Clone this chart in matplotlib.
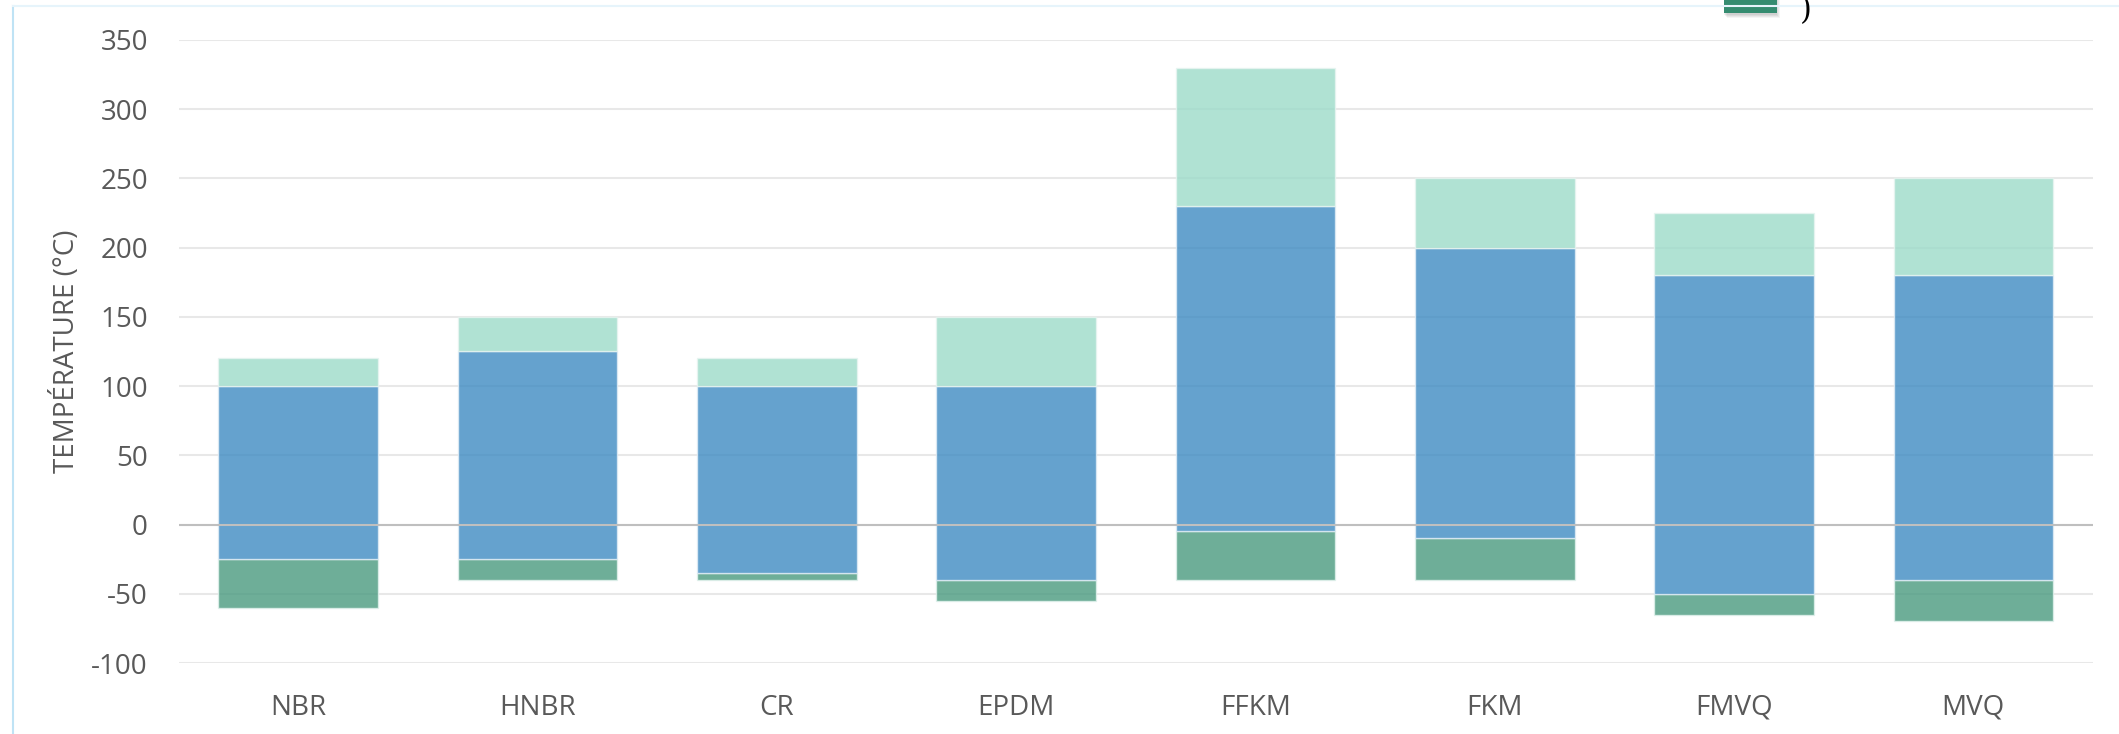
import matplotlib
matplotlib.use("Agg")
import matplotlib.pyplot as plt
from matplotlib.patches import Rectangle
from matplotlib.lines import Line2D

plt.rcParams['font.family'] = ['Open Sans', 'DejaVu Sans']

categories = ["NBR", "HNBR", "CR", "EPDM", "FFKM", "FKM", "FMVQ", "MVQ"]
low_extended = [-60, -40, -40, -55, -40, -40, -65, -70]
low_continuous = [-25, -25, -35, -40, -5, -10, -50, -40]
high_continuous = [100, 125, 100, 100, 230, 200, 180, 180]
high_peak = [120, 150, 120, 150, 330, 250, 225, 250]
yticks = [-100, -50, 0, 50, 100, 150, 200, 250, 300, 350]

W, H = 2119, 734
fig = plt.figure(figsize=(W / 100, H / 100), dpi=100)
ax = fig.add_axes([178.5 / W, 1 - 663 / H, (2093 - 178.5) / W, (663 - 40) / H])

x = list(range(len(categories)))
c_blue = '#3E8BC2'
c_light = '#9CDBC9'
c_dark = '#4A9A7F'
alpha = 0.8
bw = 0.667

dark_h = [lc - le for le, lc in zip(low_extended, low_continuous)]
blue_h = [hc - lc for lc, hc in zip(low_continuous, high_continuous)]
light_h = [hp - hc for hc, hp in zip(high_continuous, high_peak)]

ax.bar(x, dark_h, bottom=low_extended, width=bw, color=c_dark, alpha=alpha,
       edgecolor='#E3F2EE', linewidth=1, zorder=2)
ax.bar(x, blue_h, bottom=low_continuous, width=bw, color=c_blue, alpha=alpha,
       edgecolor='#E3EEF6', linewidth=1, zorder=2)
ax.bar(x, light_h, bottom=high_continuous, width=bw, color=c_light, alpha=alpha,
       edgecolor='#E8F5F1', linewidth=1, zorder=2)

ax.set_xlim(-0.5, len(categories) - 0.5)
ax.set_ylim(-100, 350)
ax.set_yticks(yticks)
ax.set_yticklabels([str(v) for v in yticks])
ax.set_xticks(x)
ax.set_xticklabels(categories)
ax.tick_params(axis='both', length=0, labelsize=20, labelcolor='#595959')
ax.tick_params(axis='y', pad=22)
ax.tick_params(axis='x', pad=22)
ax.grid(axis='y', color='#E8E8E8', linewidth=1.5, zorder=0)
ax.set_axisbelow(True)
ax.axhline(0, color='#BFBFBF', linewidth=1.5, zorder=3)
for s in ax.spines.values():
    s.set_visible(False)

ax.set_ylabel("TEMPÉRATURE (°C)", fontsize=20, color='#595959')
ax.yaxis.label.set(rotation_mode='default', va='center', ha='center')
ax.yaxis.set_label_coords((66 - 178.5) / (2093 - 178.5), 0.5)

# chart area border (partially visible)
fig.add_artist(Line2D([13 / W, 13 / W], [0, 1 - 6 / H], color='#BFE3F5', linewidth=1.5))
fig.add_artist(Line2D([13 / W, 1], [1 - 6 / H, 1 - 6 / H], color='#E6F4FB', linewidth=1.5))

# clipped legend fragment (soft shadow + swatch)
for i, a in enumerate([0.05, 0.05, 0.05, 0.04]):
    fig.add_artist(Rectangle(((1724 + i) / W, 1 - (15 + i) / H), 53 / W, 20 / H,
                             facecolor='#000000', alpha=a, edgecolor='none'))
fig.add_artist(Rectangle((1724 / W, 1 - 13 / H), 53 / W, 20 / H, facecolor='#358C70',
                         edgecolor='none'))
fig.text(1800 / W, 1 - 26 / H, ")", fontsize=22, color='black', va='bottom',
         ha='left', family='DejaVu Serif')

fig.savefig("out.png", dpi=100, facecolor='white')
